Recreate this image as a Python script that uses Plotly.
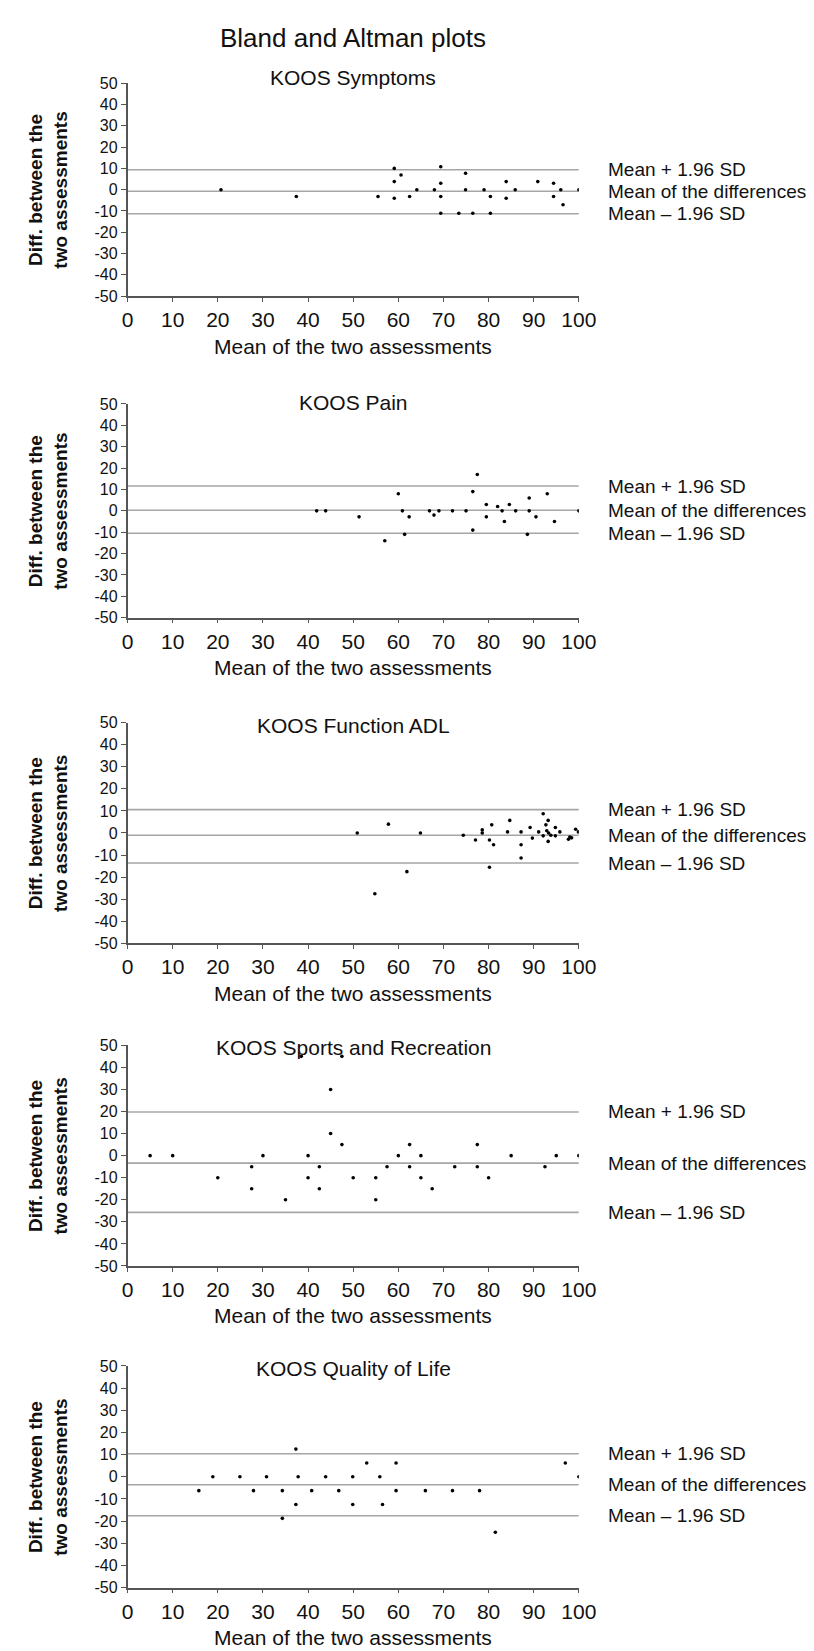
import plotly.graph_objects as go

# ---------------- data ----------------
panel_titles = ["KOOS Symptoms", "KOOS Pain", "KOOS Function ADL",
                "KOOS Sports and Recreation", "KOOS Quality of Life"]

symptoms_mean = [20.7, 37.4, 55.5, 59.1, 59.1, 59.1, 60.6, 62.5, 64.1, 68.0, 69.4, 69.4,
                 69.4, 69.4, 73.4, 74.9, 74.9, 76.5, 79.0, 80.4, 80.4, 83.9, 83.9, 85.9,
                 90.9, 94.4, 94.4, 96.0, 96.5, 100.0]
symptoms_diff = [0, -3.2, -3.2, 10.0, 3.8, -4.0, 6.9, -3.2, 0, 0, 10.8, 3.0,
                 -3.2, -11.1, -11.1, 7.7, 0, -11.1, 0, -3.2, -11.1, 3.8, -4.0, 0,
                 3.8, 3.0, -3.2, 0, -7.1, 0]

pain_mean = [41.9, 43.9, 51.3, 57.0, 60.0, 60.9, 61.4, 62.4, 66.9, 67.9, 69.0, 72.0,
             75.0, 76.5, 76.5, 77.5, 79.5, 79.5, 82.0, 83.0, 83.5, 84.6, 86.0, 88.6,
             89.0, 89.0, 90.5, 93.0, 94.6, 100.0]
pain_diff = [0, 0, -2.8, -14, 8, 0, -11, -2.8, 0, -2, 0, 0,
             0, 9, -9, 17, 3, -2.8, 2, 0, -5, 3, 0, -11,
             6, 0, -2.8, 8, -5, 0]

adl_mean = [50.9, 54.8, 57.8, 61.9, 64.9, 74.4, 77.1, 78.6, 78.6, 80.2, 80.2, 80.7,
            81.1, 84.2, 84.7, 87.2, 87.2, 87.2, 89.2, 89.7, 91.1, 92.1, 92.1, 92.7,
            92.9, 93.2, 93.2, 93.3, 93.8, 94.8, 94.8, 95.8, 97.7, 98.0, 98.4, 99.3, 99.9]
adl_diff = [0, -27.5, 4, -17.5, 0, -1, -3.2, 1.4, 0, -3.2, -15.5, 3.7,
            -5.3, 0.5, 5.7, 0.5, -5.3, -11.3, 2.5, -2.3, 0.5, 8.7, -1.3, 3.7,
            1, 5.7, -3.8, 0, -1, 2.5, -1.3, 0.5, -2.8, -1.8, -2.2, 1.7, 0.5]

sports_mean = [5, 10, 20, 27.5, 27.5, 30, 35, 38.5, 40, 40, 42.5, 42.5, 45, 45, 47.5, 47.5,
               50, 55, 55, 57.5, 60, 62.5, 62.5, 65, 65, 67.5, 72.5, 77.5, 77.5, 80,
               85, 92.5, 95, 100]
sports_diff = [0, 0, -10, -5, -15, 0, -20, 45, 0, -10, -5, -15, 30, 10, 45, 5,
               -10, -10, -20, -5, 0, 5, -5, 0, -10, -15, -5, 5, -5, -10,
               0, -5, 0, 0]

qol_mean = [15.8, 18.9, 24.9, 27.9, 30.8, 34.3, 34.3, 37.3, 37.3, 37.8, 40.8, 43.9,
            46.8, 49.9, 49.9, 53.0, 55.9, 56.5, 59.5, 59.5, 66.0, 72.0, 78.0, 81.5,
            97.0, 100.0]
qol_diff = [-6.25, 0, 0, -6.25, 0, -6.25, -18.75, 12.5, -12.5, 0, -6.25, 0,
            -6.25, 0, -12.5, 6.25, 0, -12.5, 6.25, -6.25, -6.25, -6.25, -6.25, -25,
            6.25, 0]

upper_loa = [9.4, 11.6, 10.6, 19.8, 10.4]
mean_diff = [-0.7, 0.3, -1.0, -3.4, -3.6]
lower_loa = [-11.3, -10.5, -13.6, -25.7, -17.6]

line_labels = ["Mean + 1.96 SD", "Mean of the differences", "Mean \u2013 1.96 SD"]
x_ticks = list(range(0, 101, 10))
y_ticks = list(range(-50, 51, 10))

means = [symptoms_mean, pain_mean, adl_mean, sports_mean, qol_mean]
diffs = [symptoms_diff, pain_diff, adl_diff, sports_diff, qol_diff]

# ---------------- layout ----------------
W, H = 814, 1651
FONT = "Liberation Sans, Arial, Helvetica, sans-serif"
panel_px = [(68, 283), (392, 608), (714, 937), (1040, 1263), (1364, 1588)]
subtitle_px = [62, 391, 717, 1042, 1367]
x_left, x_right = 117, 582
xdom = [x_left / W, x_right / W]

fig = go.Figure()
annotations = []
shapes = []
layout_axes = {}

for i in range(5):
    n = "" if i == 0 else str(i + 1)
    top, bot = panel_px[i]
    ydom = [1 - bot / H, 1 - top / H]
    fig.add_trace(go.Scatter(
        x=means[i], y=diffs[i], mode="markers",
        marker=dict(color="black", size=3.6),
        xaxis="x" + n, yaxis="y" + n, showlegend=False, hoverinfo="x+y"))

    layout_axes["xaxis" + n] = dict(
        domain=xdom, range=[0, 100], anchor="y" + n,
        tickmode="array", tickvals=x_ticks, ticktext=[str(v) for v in x_ticks],
        ticks="outside", ticklen=4, tickwidth=1, tickcolor="#555",
        showline=True, linecolor="#555", linewidth=1.5,
        showgrid=False, zeroline=False,
        tickfont=dict(family=FONT, size=21, color="#111"))
    layout_axes["yaxis" + n] = dict(
        domain=ydom, range=[-50, 50], anchor="x" + n,
        tickmode="array", tickvals=y_ticks, ticktext=[str(v) for v in y_ticks],
        ticks="outside", ticklen=5, tickwidth=1, tickcolor="#555",
        showline=True, linecolor="#555", linewidth=1.5,
        showgrid=False, zeroline=False,
        tickfont=dict(family=FONT, size=16, color="#111"))

    for val in (upper_loa[i], mean_diff[i], lower_loa[i]):
        shapes.append(dict(type="line", xref="x" + n, yref="y" + n,
                           x0=0, x1=100, y0=val, y1=val,
                           line=dict(color="#a6a6a6", width=1.6), layer="below"))

    for val, lab in zip((upper_loa[i], mean_diff[i], lower_loa[i]), line_labels):
        annotations.append(dict(text=lab, xref="paper", yref="y" + n,
                                x=610 / W, y=val, xanchor="left", yanchor="middle",
                                showarrow=False,
                                font=dict(family=FONT, size=19, color="#111")))

    # panel title
    annotations.append(dict(text=panel_titles[i], xref="x" + n, yref="paper",
                            x=50, y=1 - subtitle_px[i] / H,
                            xanchor="center", yanchor="middle", showarrow=False,
                            font=dict(family=FONT, size=21, color="#111")))
    # x title
    annotations.append(dict(text="Mean of the two assessments", xref="x" + n, yref="paper",
                            x=50, y=ydom[0], yshift=-50,
                            xanchor="center", yanchor="middle", showarrow=False,
                            font=dict(family=FONT, size=21, color="#111")))
    # y title
    annotations.append(dict(text="<b>Diff. between the<br>two assessments</b>",
                            xref="paper", yref="paper",
                            x=35 / W, y=(ydom[0] + ydom[1]) / 2,
                            xanchor="center", yanchor="middle", textangle=-90,
                            showarrow=False,
                            font=dict(family=FONT, size=19, color="#111")))

annotations.append(dict(text="Bland and Altman plots", xref="x", yref="paper",
                        x=50, y=1 - 22 / H, xanchor="center", yanchor="middle",
                        showarrow=False, font=dict(family=FONT, size=26, color="#111")))

fig.update_layout(
    width=W, height=H,
    margin=dict(l=0, r=0, t=0, b=0),
    paper_bgcolor="white", plot_bgcolor="white",
    annotations=annotations, shapes=shapes,
    font=dict(family=FONT, color="#111"),
    **layout_axes)

fig.write_html("out.html")
